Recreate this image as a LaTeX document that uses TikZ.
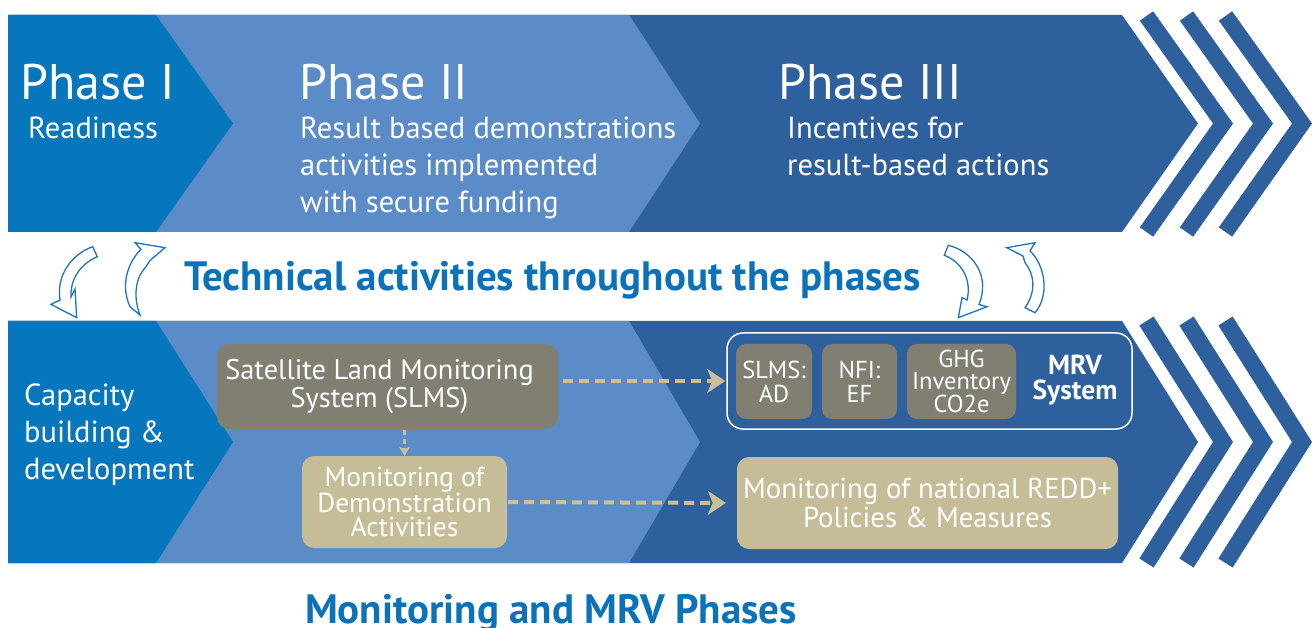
\documentclass[tikz,border=0pt]{standalone}
\usepackage{fontspec}
\setmainfont{PT Sans}
\usetikzlibrary{arrows.meta}
\definecolor{pone}{HTML}{0676BD}
\definecolor{ptwo}{HTML}{5B8CC8}
\definecolor{pthree}{HTML}{2E609D}
\definecolor{ttl}{HTML}{0B72BA}
\definecolor{graybox}{HTML}{807F72}
\definecolor{beige}{HTML}{C5BD97}
\definecolor{dashc}{HTML}{C9C09A}
\definecolor{arrc}{HTML}{1C75BC}
\newcommand\fPh{\fontsize{50}{60}\selectfont}
\newcommand\fSub{\fontsize{30.5}{37}\selectfont}
\newcommand\fTtl{\bfseries\fontsize{41}{46}\selectfont}
\begin{document}
\begin{tikzpicture}[x=1pt,y=-1pt,
  phasetxt/.style={anchor=base west, inner sep=0pt, text=white, font=\fPh},
  subtxt/.style={anchor=base west, inner sep=0pt, text=white, font=\fSub, align=left},
  ttltxt/.style={anchor=base, inner sep=0pt, text=ttl, font=\fTtl},
  roundbox/.style={rounded corners=12pt, inner sep=0pt, text=white, align=center},
  graynode/.style={roundbox, fill=graybox},
  beigenode/.style={roundbox, fill=beige},
  stripe/.style={draw=pthree, line width=#1, line join=miter, line cap=butt},
  curvearrow/.style={draw=arrc, fill=white, line width=1.3pt, line join=miter},
  dasharrow/.style={draw=dashc, line width=4pt, dash pattern=on 10pt off 6pt,
     -{Stealth[length=18pt,width=24pt,inset=5pt]}}
]
\useasboundingbox (0,0) rectangle (1312,628);
% ---------- top band ----------
\fill[pthree] (8,15) -- (1122,15) -- (1198,123.5) -- (1122,232) -- (8,232) -- cycle;
\fill[ptwo] (8,15) -- (629,15) -- (700,123.5) -- (629,232) -- (8,232) -- cycle;
\fill[pone] (8,15) -- (156,15) -- (233,123.5) -- (156,232) -- (8,232) -- cycle;
\foreach \c in {1223,1263,1302}
  \draw[stripe=16.3pt] ({\c-76.5},16) -- (\c,123.5) -- ({\c-76.5},232);
% ---------- lower band ----------
\fill[pthree] (8,321) -- (1122,321) -- (1198,442) -- (1122,563) -- (8,563) -- cycle;
\fill[ptwo] (8,321) -- (629,321) -- (700,442) -- (629,563) -- (8,563) -- cycle;
\fill[pone] (8,321) -- (156,321) -- (233,442) -- (156,563) -- (8,563) -- cycle;
\foreach \c in {1223,1263,1302}
  \draw[stripe=16.9pt] ({\c-76.5},321) -- (\c,442) -- ({\c-76.5},563);
% ---------- phase texts ----------
\node[phasetxt] (p1) at (20,100) {Phase I};
\node[subtxt] (s1) at (28,138.5) {Readiness};
\node[phasetxt] (p2) at (299,100) {Phase II};
\node[subtxt] (s2) at (300,212.5) {Result based demonstrations\\activities implemented\\with secure funding};
\node[phasetxt] (p3) at (778,100) {Phase III};
\node[subtxt] (s3) at (787,175.5) {Incentives for\\result-based actions};
% ---------- middle title and curved arrows ----------
\node[ttltxt] (tech) at (552.5,291) {Technical activities throughout the phases};
\path[curvearrow] (92.7,246.7) .. controls (72,254) and (56,275) .. (60,300) -- (51,304.3) -- (76.7,317.7) -- (75,289) -- (71,297) .. controls (70,280) and (80,264) .. (97.3,256.7) -- cycle;
\path[curvearrow] (165,247.7) -- (135,242.7) -- (141,249.3) .. controls (128,262) and (120,285) .. (130,306.7) -- (140,315) .. controls (134,300) and (134,280) .. (145,268) -- (150,260.5) -- cycle;
\path[curvearrow] (948.3,245.3) .. controls (975,252) and (990,278) .. (979,304.5) -- (987,306.7) -- (958.3,317.7) -- (962,297.5) -- (967,300) .. controls (972,280) and (962,262) .. (944.3,255.3) -- cycle;
\path[curvearrow] (1006.7,247.7) -- (1035,242.7) -- (1030,251) .. controls (1045,265) and (1050,295) .. (1035,312.7) -- (1025,307.7) .. controls (1036,292) and (1035,275) .. (1025,262.7) -- (1023,256) -- cycle;
% ---------- lower band content ----------
\node[subtxt] (cap) at (24,479) {Capacity\\building \&\\development};
\node[graynode, minimum width=341pt, minimum height=85pt, font=\fontsize{28.4}{28}\selectfont] (slms) at (387.5,386.5) {Satellite Land Monitoring\hspace*{16pt}\\System (SLMS)\hspace*{16pt}};
\node[beigenode, minimum width=205pt, minimum height=92pt, font=\fontsize{27.5}{24.5}\selectfont] (demo) at (404.5,502) {Monitoring of\\Demonstration\\Activities};
\node[draw=white, line width=1.5pt, rounded corners=16pt, minimum width=405pt, minimum height=96pt, inner sep=0pt] (mrv) at (929.5,381) {};
\node[graynode, rounded corners=10pt, minimum width=76pt, minimum height=75pt, font=\fontsize{24.5}{24}\selectfont] (ad) at (774,381.5) {SLMS:\\AD};
\node[graynode, rounded corners=10pt, minimum width=75pt, minimum height=75pt, font=\fontsize{24.5}{24}\selectfont] (ef) at (859.5,381.5) {NFI:\\EF};
\node[graynode, rounded corners=10pt, minimum width=109pt, minimum height=75pt, font=\fontsize{24.5}{22}\selectfont] (ghg) at (961.5,381.5) {GHG\\Inventory\\CO2e};
\node[inner sep=0pt, text=white, align=center, font=\bfseries\fontsize{27.5}{25.5}\selectfont] (mrvtxt) at (1075,380) {MRV\\System};
\node[beigenode, minimum width=381pt, minimum height=92pt, font=\fontsize{28.8}{29.5}\selectfont] (redd) at (927.5,503) {Monitoring of national REDD+\\Policies \& Measures};
% ---------- dashed connectors ----------
\draw[dasharrow, shorten >=1pt] ([xshift=5pt]slms.east |- mrv.west) -- (mrv.west);
\draw[dasharrow, shorten >=11pt] ([xshift=1pt]demo.east) -- (redd.west);
\draw[draw=dashc, line width=3pt, dash pattern=on 5pt off 4pt, -{Stealth[length=9pt,width=11pt,inset=2pt]}] ([yshift=-1pt]slms.south -| demo.north) -- (demo.north);
% ---------- bottom title ----------
\node[ttltxt] (mon) at (551,623) {Monitoring and MRV Phases};
\end{tikzpicture}
\end{document}
